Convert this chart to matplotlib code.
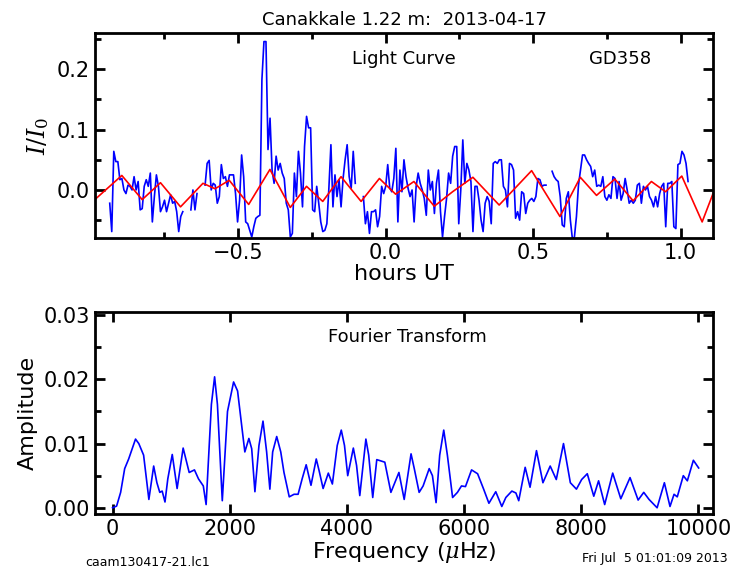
import numpy as np
import matplotlib
matplotlib.use("Agg")
import matplotlib.pyplot as plt

plt.rcParams['mathtext.fontset'] = 'dejavuserif'

# light curve: evenly sampled, nan = gap
t_start = -0.935
t_step = 0.006878
flux = [-0.022, -0.069, 0.064, 0.047, 0.047, 0.017, 0.019, 0.0, -0.006, 0.008,
        0.006, 0.0, 0.022, 0.0, 0.014, -0.033, -0.031, 0.006, 0.017, 0.006,
        0.028, -0.053, -0.011, 0.025, 0.006, -0.036, -0.028, -0.017, -0.036, -0.022,
        -0.008, -0.022, -0.019, -0.036, -0.069, -0.044, -0.036, np.nan, np.nan, np.nan,
        -0.033, 0.0, -0.033, -0.006, np.nan, np.nan, np.nan, 0.008, 0.044, 0.049,
        0.0, 0.011, 0.008, -0.022, -0.011, 0.042, 0.019, 0.022, 0.006, 0.025,
        0.025, 0.025, -0.006, -0.053, -0.017, 0.058, 0.022, -0.053, -0.056, -0.067,
        -0.078, -0.061, -0.047, -0.044, -0.042, 0.183, 0.246, 0.246, 0.067, 0.119,
        0.033, 0.011, 0.056, 0.033, 0.044, 0.028, 0.019, -0.022, -0.033, -0.078,
        -0.072, 0.028, -0.011, 0.064, 0.028, -0.028, 0.072, 0.122, 0.103, 0.103,
        -0.033, -0.036, 0.006, -0.022, -0.053, -0.069, -0.067, -0.056, 0.003, 0.075,
        -0.028, 0.025, -0.011, 0.017, -0.028, 0.019, 0.050, 0.075, 0.022, 0.003,
        0.064, 0.011, np.nan, np.nan, np.nan, -0.011, -0.056, -0.036, -0.072, -0.036,
        -0.036, -0.033, -0.061, -0.044, 0.006, -0.006, 0.006, 0.042, 0.003, -0.003,
        0.019, 0.069, -0.053, 0.033, -0.003, 0.050, 0.022, 0.003, -0.011, 0.0,
        -0.053, 0.006, 0.028, 0.011, 0.0, -0.014, -0.042, 0.033, 0.0, 0.014,
        -0.039, 0.011, 0.033, -0.036, -0.078, -0.044, -0.014, 0.028, 0.011, 0.056,
        0.072, 0.072, -0.056, 0.0, 0.083, 0.011, 0.044, 0.033, 0.014, -0.069,
        0.006, 0.006, -0.017, -0.050, -0.069, -0.022, -0.011, -0.019, -0.056, 0.044,
        0.047, 0.044, 0.050, 0.050, 0.006, 0.0, -0.028, 0.044, 0.042, 0.033,
        -0.047, -0.036, -0.050, -0.003, -0.006, -0.039, -0.022, -0.017, -0.014, -0.019,
        -0.011, 0.019, 0.017, 0.006, 0.008, 0.008, np.nan, np.nan, 0.031, 0.022,
        0.017, 0.014, -0.011, -0.058, -0.061, -0.014, -0.003, -0.050, -0.081, -0.078,
        -0.044, 0.008, 0.033, 0.058, 0.058, 0.050, 0.044, 0.039, 0.022, 0.033,
        0.006, 0.008, 0.006, 0.022, -0.011, -0.017, -0.008, -0.014, 0.022, 0.019,
        -0.014, 0.014, -0.017, -0.006, 0.019, 0.0, -0.022, -0.017, -0.022, -0.017,
        0.008, 0.011, -0.022, 0.006, 0.0, 0.006, -0.011, -0.017, -0.028, -0.011,
        -0.028, -0.006, 0.006, 0.011, -0.061, 0.011, 0.011, 0.014, -0.061, -0.064,
        0.042, 0.044, 0.064, 0.058, 0.044, 0.014]
hours = t_start + t_step * np.arange(len(flux))

# model fit (red)
fit_t = [-0.997, -0.894, -0.825, -0.763, -0.695, -0.619, -0.578, -0.530, -0.464, -0.392,
         -0.323, -0.268, -0.213, -0.151, -0.083, -0.021, 0.034, 0.096, 0.165, 0.227,
         0.296, 0.385, 0.495, 0.591, 0.660, 0.715, 0.777, 0.839, 0.901, 0.949,
         1.004, 1.073, 1.128]
fit_v = [-0.021, 0.024, -0.016, 0.012, -0.028, 0.011, 0.002, 0.016, -0.024, 0.034,
         -0.029, 0.006, -0.019, 0.022, -0.019, 0.019, -0.007, 0.014, -0.027, -0.003,
         0.021, -0.025, 0.032, -0.044, 0.021, -0.009, 0.018, -0.018, 0.014, -0.003,
         0.023, -0.053, 0.017]

# Fourier transform
freq = [0, 69, 138, 207, 275, 392, 448, 530, 620, 702, 757, 806, 847, 895, 943, 1019,
        1102, 1205, 1308, 1398, 1467, 1549, 1597, 1687, 1742, 1790, 1873, 1962, 2066,
        2134, 2203, 2258, 2327, 2375, 2430, 2499, 2568, 2630, 2685, 2733, 2802, 2871,
        2926, 3016, 3098, 3167, 3236, 3305, 3387, 3477, 3525, 3594, 3683, 3752, 3835,
        3904, 3959, 4014, 4110, 4165, 4220, 4324, 4372, 4441, 4510, 4579, 4647, 4751,
        4888, 4978, 5095, 5150, 5233, 5301, 5405, 5460, 5522, 5584, 5653, 5715, 5804,
        5887, 5956, 6024, 6128, 6231, 6334, 6424, 6541, 6644, 6713, 6816, 6885, 6933,
        7043, 7126, 7236, 7346, 7470, 7574, 7697, 7814, 7918, 8007, 8103, 8214, 8296,
        8400, 8537, 8675, 8833, 8971, 9067, 9157, 9295, 9419, 9515, 9584, 9639, 9742,
        9811, 9914, 10004]
amp = [0.0000, 0.00026, 0.0024, 0.0061, 0.0076, 0.0107, 0.0100, 0.0082, 0.0013, 0.0065,
       0.0039, 0.0024, 0.0026, 0.0009, 0.0045, 0.0083, 0.0030, 0.0093, 0.0055, 0.0059,
       0.0045, 0.0034, 0.0005, 0.0161, 0.0204, 0.0161, 0.0011, 0.0150, 0.0196, 0.0182,
       0.0129, 0.0087, 0.0108, 0.0092, 0.0025, 0.0097, 0.0135, 0.0087, 0.0029, 0.0087,
       0.0111, 0.0087, 0.0055, 0.0017, 0.0021, 0.0021, 0.0045, 0.0067, 0.0035, 0.0076,
       0.0058, 0.0030, 0.0054, 0.0037, 0.0097, 0.0121, 0.0097, 0.0050, 0.0093, 0.0066,
       0.0019, 0.0107, 0.0082, 0.0016, 0.0075, 0.0073, 0.0071, 0.0024, 0.0055, 0.0013,
       0.0084, 0.0061, 0.0024, 0.0034, 0.0061, 0.0050, 0.0008, 0.0082, 0.0121, 0.0082,
       0.0016, 0.0024, 0.0034, 0.0033, 0.0059, 0.0053, 0.0029, 0.0007, 0.0025, 0.0002,
       0.0016, 0.0026, 0.0023, 0.0011, 0.0063, 0.0032, 0.0089, 0.0039, 0.0065, 0.0044,
       0.0100, 0.0039, 0.0029, 0.0044, 0.0053, 0.0018, 0.0042, 0.0005, 0.0054, 0.0014,
       0.0047, 0.0012, 0.0024, 0.0013, 0.0000, 0.0039, 0.0002, 0.0021, 0.0017, 0.0050,
       0.0042, 0.0074, 0.0062]

fig = plt.figure(figsize=(7.42, 5.81), dpi=100)
ax1 = fig.add_axes([0.128, 0.590, 0.833, 0.353])
ax2 = fig.add_axes([0.128, 0.115, 0.833, 0.348])

for ax in (ax1, ax2):
    ax.tick_params(which='both', direction='in', top=True, right=True, labelsize=15, width=2)
    ax.tick_params(which='major', length=7)
    ax.tick_params(which='minor', length=4)
    for s in ax.spines.values():
        s.set_linewidth(2)

ax1.plot(hours, flux, color='blue', lw=1.2)
ax1.plot(fit_t, fit_v, color='red', lw=1.2)
ax1.set_xlim(-0.985, 1.11)
ax1.set_ylim(-0.08, 0.26)
ax1.set_xticks([-0.5, 0.0, 0.5, 1.0])
ax1.set_xticks(np.arange(-0.75, 1.1, 0.25), minor=True)
ax1.set_yticks([0.0, 0.1, 0.2])
ax1.set_yticks(np.arange(-0.05, 0.26, 0.05), minor=True)
ax1.set_ylabel('$I/I_0$', fontsize=17)
ax1.set_xlabel('hours UT', fontsize=16, labelpad=1)
ax1.set_title('Canakkale 1.22 m:  2013-04-17', fontsize=13)
ax1.text(0.50, 0.85, 'Light Curve', transform=ax1.transAxes, ha='center', fontsize=13)
ax1.text(0.85, 0.85, 'GD358', transform=ax1.transAxes, ha='center', fontsize=13)

ax2.plot(freq, amp, color='blue', lw=1.2)
ax2.set_xlim(-300, 10250)
ax2.set_ylim(-0.001, 0.0305)
ax2.set_xticks([0, 2000, 4000, 6000, 8000, 10000])
ax2.set_yticks([0.0, 0.01, 0.02, 0.03])
ax2.set_yticks(np.arange(0.005, 0.031, 0.005), minor=True)
ax2.yaxis.set_major_formatter(matplotlib.ticker.FormatStrFormatter('%.2f'))
ax2.set_ylabel('Amplitude', fontsize=16)
ax2.set_xlabel(r'Frequency ($\mu$Hz)', fontsize=16, labelpad=1)
ax2.text(0.505, 0.85, 'Fourier Transform', transform=ax2.transAxes, ha='center', fontsize=13)

fig.text(0.115, 0.025, 'caam130417-21.lc1', fontsize=9)
fig.text(0.98, 0.033, 'Fri Jul  5 01:01:09 2013', fontsize=9, ha='right')

fig.savefig('out.png', dpi=100)
